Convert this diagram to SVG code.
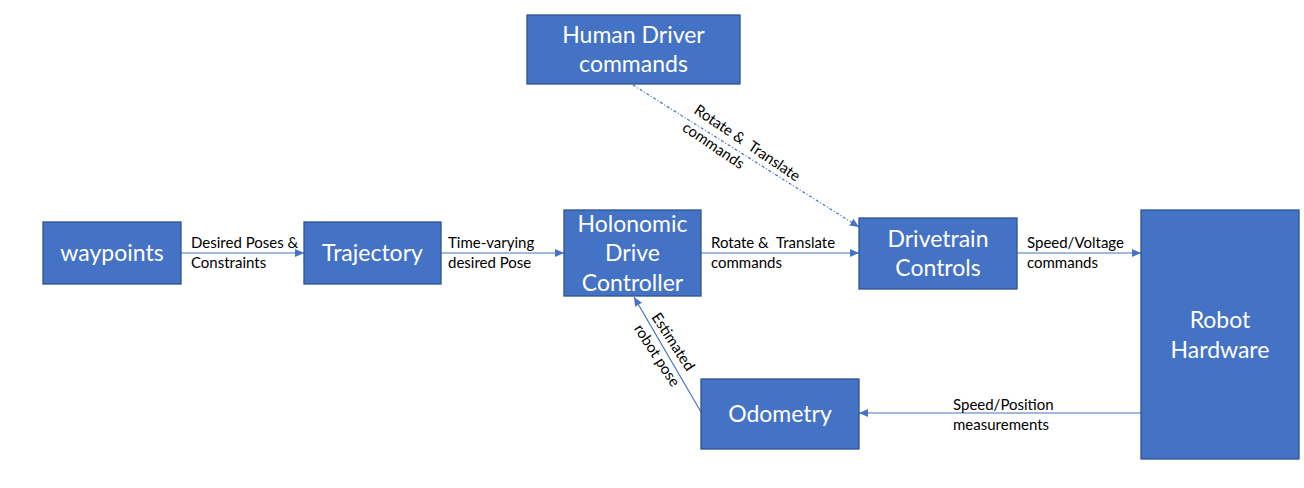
<svg xmlns="http://www.w3.org/2000/svg" width="1304" height="488" viewBox="0 0 1304 488">
<style>
.box{fill:#4472C4;stroke:#2F528F;stroke-width:1.3}
.bt{font-family:Lato,"Liberation Sans",sans-serif;font-size:23px;fill:#fff;text-anchor:middle}
.lb{font-family:Lato,"Liberation Sans",sans-serif;font-size:15px;fill:#000}
.cn{stroke:#4472C4;stroke-width:1.2;fill:none;marker-end:url(#ah)}
</style>
<defs>
<marker id="ah" markerUnits="userSpaceOnUse" markerWidth="10" markerHeight="8" refX="9" refY="4" orient="auto">
<path d="M0,0 L9,4 L0,8 z" fill="#4472C4"/>
</marker>
</defs>
<rect width="1304" height="488" fill="#fff"/>
<g id="connectors">
<line class="cn" x1="181" y1="253" x2="304" y2="253"/>
<line class="cn" x1="441" y1="253" x2="564" y2="253"/>
<line class="cn" x1="701" y1="253" x2="859" y2="253"/>
<line class="cn" x1="1017" y1="253" x2="1141" y2="253"/>
<line class="cn" x1="1141" y1="413" x2="859" y2="413"/>
<line class="cn" x1="701" y1="412" x2="634" y2="297"/>
<line class="cn" x1="633" y1="85" x2="859" y2="227" stroke-dasharray="3 2 1 2" stroke-width="1"/>
<text class="lb" x="191" y="248">Desired Poses &amp;</text>
<text class="lb" x="191" y="268">Constraints</text>
<text class="lb" x="448" y="248">Time-varying</text>
<text class="lb" x="448" y="268">desired Pose</text>
<text class="lb" x="711" y="248" xml:space="preserve">Rotate &amp;  Translate</text>
<text class="lb" x="711" y="268">commands</text>
<text class="lb" x="1027" y="248">Speed/Voltage</text>
<text class="lb" x="1027" y="268">commands</text>
<text class="lb" x="953" y="410">Speed/Position</text>
<text class="lb" x="953" y="430">measurements</text>
<g transform="translate(693,112.5) rotate(34)">
<text class="lb" x="0" y="0" xml:space="preserve">Rotate &amp;  Translate</text>
<text class="lb" x="0" y="21">commands</text>
</g>
<g transform="translate(651,317) rotate(57)">
<text class="lb" x="0" y="0">Estimated</text>
<text class="lb" x="0" y="21">robot pose</text>
</g>
</g>
<g id="waypoints"><rect class="box" x="43" y="222" width="138" height="62"/><text class="bt" x="112" y="261">waypoints</text></g>
<g id="trajectory"><rect class="box" x="304" y="222" width="137" height="62"/><text class="bt" x="372.5" y="261">Trajectory</text></g>
<g id="holonomic"><rect class="box" x="564" y="210" width="137" height="86"/><text class="bt" x="632.5" y="232">Holonomic</text><text class="bt" x="632.5" y="261">Drive</text><text class="bt" x="632.5" y="291">Controller</text></g>
<g id="human"><rect class="box" x="527" y="15" width="213" height="69"/><text class="bt" x="633.5" y="43">Human Driver</text><text class="bt" x="633.5" y="72">commands</text></g>
<g id="drivetrain"><rect class="box" x="859" y="218" width="158" height="71"/><text class="bt" x="938" y="247">Drivetrain</text><text class="bt" x="938" y="276">Controls</text></g>
<g id="robot"><rect class="box" x="1141" y="210" width="158" height="249"/><text class="bt" x="1220" y="328">Robot</text><text class="bt" x="1220" y="358">Hardware</text></g>
<g id="odometry"><rect class="box" x="701" y="379" width="158" height="70"/><text class="bt" x="780" y="422">Odometry</text></g>
</svg>
